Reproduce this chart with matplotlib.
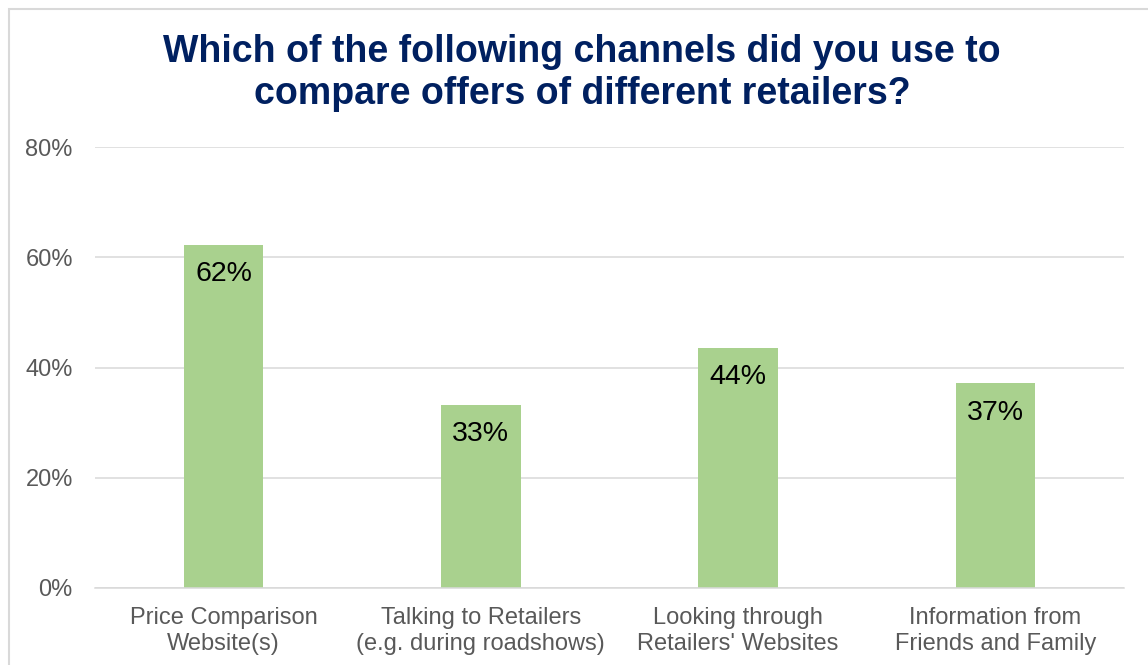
import matplotlib
matplotlib.use("Agg")
import matplotlib.pyplot as plt
from matplotlib.patches import Rectangle
from matplotlib.ticker import FuncFormatter

categorias = ["Price Comparison\nWebsite(s)",
              "Talking to Retailers\n(e.g. during roadshows)",
              "Looking through\nRetailers' Websites",
              "Information from\nFriends and Family"]
valores = [62.3, 33.2, 43.6, 37.1]
etiquetas = ["62%", "33%", "44%", "37%"]
titulo = "Which of the following channels did you use to\ncompare offers of different retailers?"

plt.rcParams["font.family"] = ["Liberation Sans", "DejaVu Sans"]

fig = plt.figure(figsize=(11.48, 6.65), dpi=100)
ax = fig.add_axes([95/1148, 1-588/665, 1029/1148, 441/665])

x = range(len(categorias))
barras = ax.bar(x, valores, width=0.31, color="#A9D18E", zorder=2)

for b, et in zip(barras, etiquetas):
	ax.annotate(et, (b.get_x() + b.get_width()/2, b.get_height()),
		xytext=(0, -21), textcoords="offset points",
		ha="center", va="center", fontsize=20.5, color="black", zorder=3)

ax.set_ylim(0, 80)
ax.set_xlim(-0.5, len(categorias) - 0.5)
ax.set_yticks([0, 20, 40, 60, 80])
ax.yaxis.set_major_formatter(FuncFormatter(lambda v, p: "%d%%" % v))
ax.set_xticks(list(x))
ax.set_xticklabels(categorias, fontsize=17, color="#595959", linespacing=1.2)
ax.tick_params(axis="y", labelsize=17, labelcolor="#595959", length=0, pad=16)
ax.tick_params(axis="x", length=0, pad=14)

ax.grid(axis="y", color="#D9D9D9", linewidth=1.1, zorder=0)
for s in ["top", "right", "left"]:
	ax.spines[s].set_visible(False)
ax.spines["bottom"].set_color("#D9D9D9")
ax.spines["bottom"].set_linewidth(1.1)

fig.text(0.507, 1-34/665, titulo, ha="center", va="top", fontsize=27,
	fontweight="bold", color="#002060", linespacing=1.22)

borde = Rectangle((9/1148, -0.1), 1.2, 1.1 - 9/665, transform=fig.transFigure,
	fill=False, edgecolor="#D9D9D9", linewidth=1.5)
fig.patches.append(borde)

fig.savefig("out.png", dpi=100)
